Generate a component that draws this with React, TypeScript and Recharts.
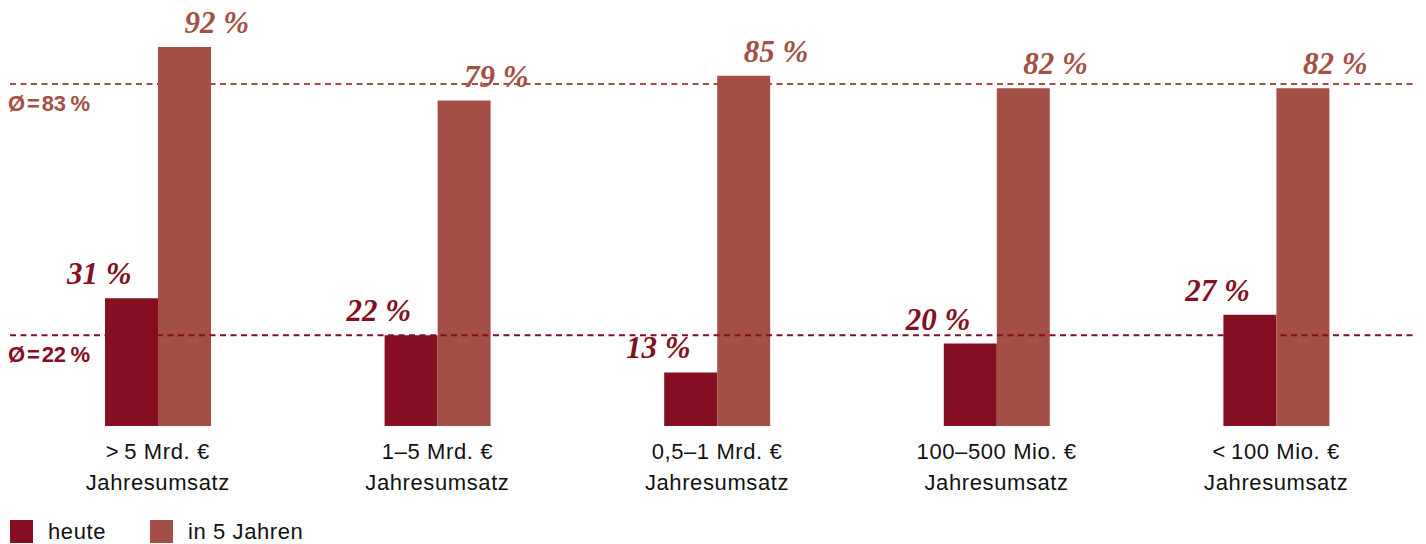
import React from 'react';
import { BarChart, Bar, XAxis, YAxis, ReferenceLine, LabelList } from 'recharts';

const categories = ['>\u20095 Mrd. €', '1–5 Mrd. €', '0,5–1 Mrd. €', '100–500 Mio. €', '<\u2009100 Mio. €'];
const heute = [31, 22, 13, 20, 27];
const in5Jahren = [92, 79, 85, 82, 82];
const avgHeute = 22;
const avgIn5Jahren = 83;

const DARK = '#850e23';
const LIGHT = '#a44f46';
const SANS = '"Liberation Sans", Arial, sans-serif';

const data = categories.map((name, i) => ({ name, heute: heute[i], spaeter: in5Jahren[i] }));

const ValueLabel = (props: any) => {
  const { x, y, width, value, color, side } = props;
  const cx = x + width / 2;
  return (
    <text
      x={cx}
      y={y - 14}
      textAnchor={side === 'left' ? 'end' : 'start'}
      fill={color}
      style={{ fontFamily: '"Liberation Serif", serif', fontWeight: 'bold', fontStyle: 'italic', fontSize: 31 }}
    >
      {value} %
    </text>
  );
};

const CategoryTick = (props: any) => {
  const { x, y, payload } = props;
  return (
    <g transform={`translate(${x},${y})`}>
      <text textAnchor="middle" fill="#111" style={{ fontFamily: SANS, fontSize: 22, letterSpacing: 0.6 }}>
        <tspan x={0} dy={33}>{payload.value}</tspan>
        <tspan x={0} dy={31}>Jahresumsatz</tspan>
      </text>
    </g>
  );
};

const AvgLabel = (props: any) => {
  const { viewBox, value, color } = props;
  return (
    <text
      x={viewBox.x - 2}
      y={viewBox.y + 27}
      fill={color}
      style={{ fontFamily: SANS, fontWeight: 'bold', fontSize: 22 }}
    >
      {`Ø\u200A=\u200A${value}\u2009%`}
    </text>
  );
};

const legendItems = [
  { label: 'heute', color: DARK, left: 10 },
  { label: 'in 5 Jahren', color: LIGHT, left: 150 },
];

export default function App() {
  return (
    <div style={{ position: 'absolute', left: 0, top: 0, width: 1426, height: 544, background: '#fff' }}>
      <BarChart width={1426} height={500} data={data} margin={{ top: 14, right: 10, left: 10, bottom: 0 }} barGap={0}>
        <XAxis
          dataKey="name"
          height={74}
          axisLine={false}
          tickLine={false}
          tickSize={0}
          tickMargin={0}
          padding={{ left: 8, right: 0 }}
          interval={0}
          tick={<CategoryTick />}
        />
        <YAxis hide domain={[0, 100]} />
        <ReferenceLine
          y={avgIn5Jahren}
          stroke={LIGHT}
          strokeWidth={2}
          strokeDasharray="6 4.5"
          label={<AvgLabel value={avgIn5Jahren} color={LIGHT} />}
        />
        <ReferenceLine
          y={avgHeute}
          stroke={DARK}
          strokeWidth={2}
          strokeDasharray="6 4.5"
          label={<AvgLabel value={avgHeute} color={DARK} />}
        />
        <Bar dataKey="heute" fill={DARK} barSize={53} isAnimationActive={false}>
          <LabelList dataKey="heute" content={<ValueLabel color={DARK} side="left" />} />
        </Bar>
        <Bar dataKey="spaeter" fill={LIGHT} barSize={53} isAnimationActive={false}>
          <LabelList dataKey="spaeter" content={<ValueLabel color={LIGHT} side="right" />} />
        </Bar>
      </BarChart>
      {legendItems.map((item) => (
        <div
          key={item.label}
          style={{
            position: 'absolute',
            left: item.left,
            top: 520,
            display: 'flex',
            alignItems: 'center',
            fontFamily: SANS,
            fontSize: 22,
            letterSpacing: 0.6,
            color: '#111',
          }}
        >
          <span style={{ width: 23, height: 23, background: item.color, display: 'inline-block', marginRight: 15 }} />
          <span style={{ lineHeight: '23px' }}>{item.label}</span>
        </div>
      ))}
    </div>
  );
}
